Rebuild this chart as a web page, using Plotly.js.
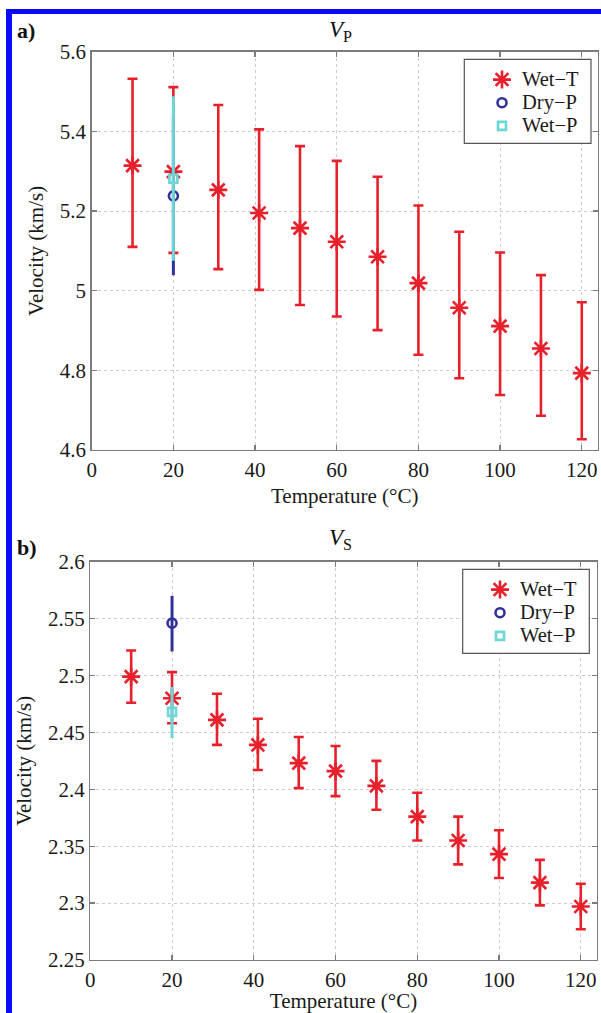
<!DOCTYPE html>
<html>
<head>
<meta charset="utf-8">
<script src="https://cdn.plot.ly/plotly-3.0.1.min.js"></script>
<style>
  html, body { margin: 0; padding: 0; background: #fff; }
  #wrap { position: relative; width: 601px; height: 1013px; overflow: hidden; }
  #plot { position: absolute; left: 0; top: 0; width: 601px; height: 1013px; }
  .frame { position: absolute; background: #0a0aff; z-index: 5; }
</style>
</head>
<body>
<div id="wrap">
  <div id="plot"></div>
  <div class="frame" style="left:6px; top:9px; width:6px; height:1004px;"></div>
  <div class="frame" style="left:6px; top:9px; width:595px; height:5px;"></div>
</div>
<script>
// ---------- data ----------
const temps = [10, 20, 31, 41, 51, 60, 70, 80, 90, 100, 110, 120];
const xTicks = [0, 20, 40, 60, 80, 100, 120];
const seriesNames = ["Wet\u2212T", "Dry\u2212P", "Wet\u2212P"];

// (a) Vp, Wet-T
const vpWetT     = [5.314, 5.299, 5.253, 5.195, 5.157, 5.123, 5.085, 5.019, 4.957, 4.911, 4.855, 4.793];
const vpWetTHigh = [5.532, 5.511, 5.466, 5.405, 5.363, 5.326, 5.286, 5.214, 5.148, 5.096, 5.039, 4.971];
const vpWetTLow  = [5.110, 5.095, 5.054, 5.002, 4.964, 4.935, 4.901, 4.839, 4.780, 4.738, 4.686, 4.627];
// (a) Vp, Dry-P and Wet-P at 20 C
const pTemp = [20];
const vpDryP = [5.238], vpDryPHigh = [5.437], vpDryPLow = [5.039];
const vpWetP = [5.281], vpWetPHigh = [5.488], vpWetPLow = [5.075];

// (b) Vs, Wet-T
const vsWetT     = [2.499, 2.480, 2.461, 2.439, 2.423, 2.416, 2.403, 2.376, 2.355, 2.343, 2.318, 2.297];
const vsWetTHigh = [2.522, 2.503, 2.484, 2.462, 2.446, 2.438, 2.425, 2.397, 2.376, 2.364, 2.338, 2.317];
const vsWetTLow  = [2.476, 2.458, 2.439, 2.417, 2.401, 2.394, 2.382, 2.355, 2.334, 2.322, 2.298, 2.277];
// (b) Vs, Dry-P and Wet-P at 20 C
const vsDryP = [2.546], vsDryPHigh = [2.570], vsDryPLow = [2.521];
const vsWetP = [2.468], vsWetPHigh = [2.490], vsWetPLow = [2.445];

// ---------- styling ----------
const FONT = 'Liberation Serif, Times New Roman, serif';
const RED = '#e8202c', NAVY = '#30329a', CYAN = '#6dd6d6';
const W = 601, H = 1013;
const px = v => v / W;            // pixel -> paper x
const py = v => 1 - v / H;        // pixel -> paper y
const legText = s => '<span style="font-size:20.5px">' + s + '</span>';

function errs(c, hi, lo) {
  return { up: c.map((v, i) => +(hi[i] - v).toFixed(4)), dn: c.map((v, i) => +(v - lo[i]).toFixed(4)) };
}

function traces(xa, ya, legend, wetT, wetTHi, wetTLo, dry, dryHi, dryLo, wetP, wetPHi, wetPLo) {
  const e1 = errs(wetT, wetTHi, wetTLo), e2 = errs(dry, dryHi, dryLo), e3 = errs(wetP, wetPHi, wetPLo);
  return [
    { type: 'scatter', mode: 'markers', name: legText(seriesNames[0]), x: temps, y: wetT, xaxis: xa, yaxis: ya, legend: legend,
      marker: { symbol: 'asterisk-open', size: 15, color: RED, line: { color: RED, width: 2.6 } },
      error_y: { type: 'data', symmetric: false, array: e1.up, arrayminus: e1.dn, color: RED, thickness: 2.6, width: 5 } },
    { type: 'scatter', mode: 'markers', name: legText(seriesNames[1]), x: pTemp, y: dry, xaxis: xa, yaxis: ya, legend: legend,
      marker: { symbol: 'circle-open', size: 9, color: NAVY, line: { color: NAVY, width: 2.6 } },
      error_y: { type: 'data', symmetric: false, array: e2.up, arrayminus: e2.dn, color: NAVY, thickness: 3, width: 0 } },
    { type: 'scatter', mode: 'markers', name: legText(seriesNames[2]), x: pTemp, y: wetP, xaxis: xa, yaxis: ya, legend: legend,
      marker: { symbol: 'square-open', size: 8, color: CYAN, line: { color: CYAN, width: 2.6 } },
      error_y: { type: 'data', symmetric: false, array: e3.up, arrayminus: e3.dn, color: CYAN, thickness: 3, width: 0 } }
  ];
}

const data = [].concat(
  traces('x', 'y', 'legend', vpWetT, vpWetTHigh, vpWetTLow, vpDryP, vpDryPHigh, vpDryPLow, vpWetP, vpWetPHigh, vpWetPLow),
  traces('x2', 'y2', 'legend2', vsWetT, vsWetTHigh, vsWetTLow, vsDryP, vsDryPHigh, vsDryPLow, vsWetP, vsWetPHigh, vsWetPLow)
);

const axisCommon = {
  showline: true, linecolor: '#7c7c7c', linewidth: 1.4, mirror: 'ticks',
  ticks: 'inside', ticklen: 5, tickwidth: 1.2, tickcolor: '#7c7c7c',
  showgrid: true, gridcolor: '#cdcdcd', griddash: 'dot', gridwidth: 1,
  zeroline: false, automargin: false,
  tickfont: { family: FONT, size: 21, color: '#1a1a1a' }
};
const titleFont = { family: FONT, size: 21, color: '#1a1a1a' };

const layout = {
  width: W, height: H,
  margin: { l: 0, r: 0, t: 0, b: 0 },
  paper_bgcolor: '#ffffff', plot_bgcolor: '#ffffff',
  font: { family: FONT, color: '#1a1a1a' },
  showlegend: true,
  xaxis: Object.assign({}, axisCommon, {
    domain: [px(91.7), px(597.7)], range: [0, 123.9], tickvals: xTicks, anchor: 'y',
    title: { text: 'Temperature (°C)', font: titleFont, standoff: 7 }
  }),
  yaxis: Object.assign({}, axisCommon, {
    domain: [py(450), py(51.7)], range: [4.6, 5.6], dtick: 0.2, tick0: 4.6, anchor: 'x',
    title: { text: 'Velocity (km/s)', font: titleFont, standoff: 10 }
  }),
  xaxis2: Object.assign({}, axisCommon, {
    domain: [px(90.3), px(596.7)], range: [0, 123.9], tickvals: xTicks, anchor: 'y2',
    title: { text: 'Temperature (°C)', font: titleFont, standoff: 10 }
  }),
  yaxis2: Object.assign({}, axisCommon, {
    domain: [py(960), py(561.7)], range: [2.25, 2.6], dtick: 0.05, tick0: 2.25, anchor: 'x2',
    title: { text: 'Velocity (km/s)', font: titleFont, standoff: 10 }
  }),
  legend: {
    x: px(482), y: py(63), xanchor: 'left', yanchor: 'top',
    bgcolor: 'rgba(0,0,0,0)', borderwidth: 0,
    font: { family: FONT, size: 15.5, color: '#1a1a1a' }, tracegroupgap: 0
  },
  legend2: {
    x: px(480), y: py(573), xanchor: 'left', yanchor: 'top',
    bgcolor: 'rgba(0,0,0,0)', borderwidth: 0,
    font: { family: FONT, size: 15.5, color: '#1a1a1a' }, tracegroupgap: 0
  },
  shapes: [
    { type: 'rect', xref: 'paper', yref: 'paper', x0: px(464.3), x1: px(591), y0: py(143.3), y1: py(59.3),
      line: { color: '#555555', width: 1.2 }, fillcolor: '#ffffff', layer: 'above' },
    { type: 'rect', xref: 'paper', yref: 'paper', x0: px(462.7), x1: px(589.3), y0: py(653.3), y1: py(569.3),
      line: { color: '#555555', width: 1.2 }, fillcolor: '#ffffff', layer: 'above' }
  ],
  annotations: [
    { xref: 'paper', yref: 'paper', x: px(15), y: py(31), xanchor: 'left', yanchor: 'middle', showarrow: false,
      text: '<b>a)</b>', font: { family: FONT, size: 22, color: '#111' } },
    { xref: 'paper', yref: 'paper', x: px(15), y: py(547), xanchor: 'left', yanchor: 'middle', showarrow: false,
      text: '<b>b)</b>', font: { family: FONT, size: 22, color: '#111' } },
    { xref: 'paper', yref: 'paper', x: px(340), y: py(31), xanchor: 'center', yanchor: 'middle', showarrow: false,
      text: '<i>V</i><sub>P</sub>', font: { family: FONT, size: 23, color: '#111' } },
    { xref: 'paper', yref: 'paper', x: px(340), y: py(539), xanchor: 'center', yanchor: 'middle', showarrow: false,
      text: '<i>V</i><sub>S</sub>', font: { family: FONT, size: 23, color: '#111' } }
  ]
};

Plotly.newPlot('plot', data, layout, { displayModeBar: false, staticPlot: true });
</script>
</body>
</html>
